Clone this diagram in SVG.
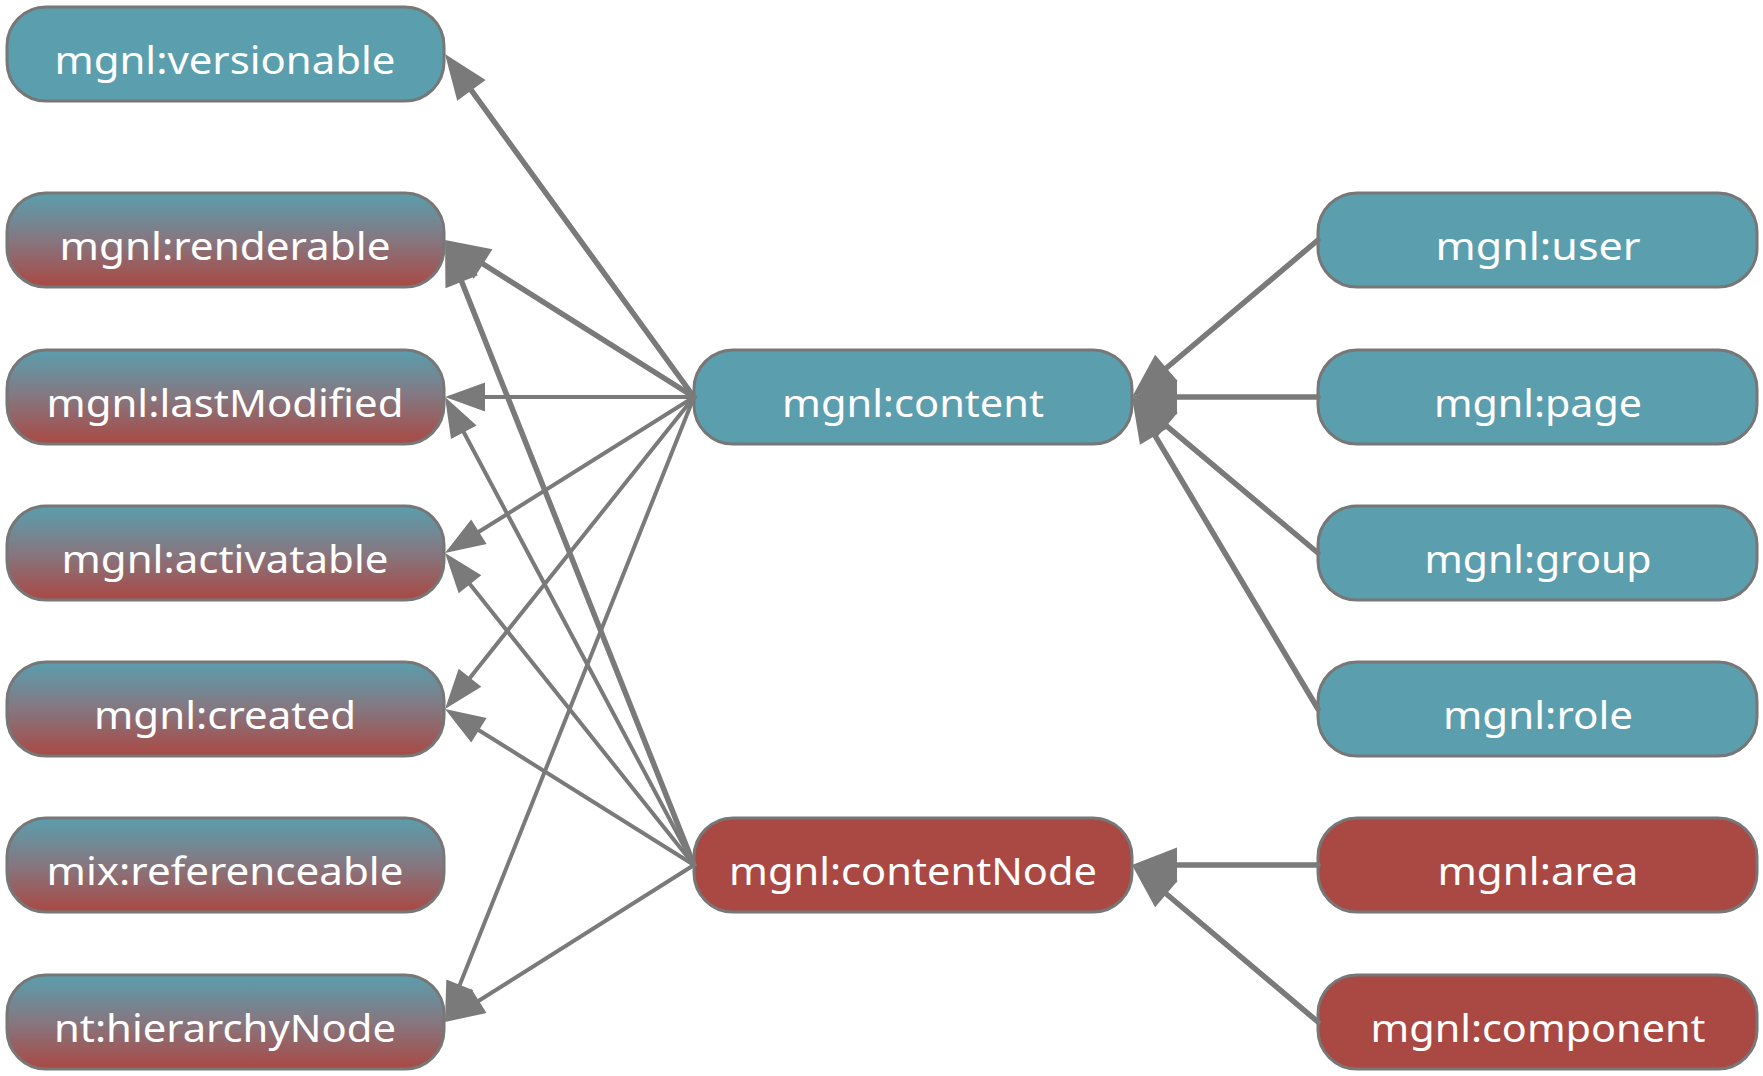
<svg xmlns="http://www.w3.org/2000/svg" width="1763" height="1076" viewBox="0 0 1763 1076">
<defs>
<linearGradient id="mix" x1="0" y1="0" x2="0" y2="1">
<stop offset="0" stop-color="#5a9eae"/>
<stop offset="0.5" stop-color="#857780"/>
<stop offset="1" stop-color="#aa4843"/>
</linearGradient>
<marker id="ahThick" markerUnits="userSpaceOnUse" viewBox="0 -19 46 38" refX="0" refY="0" markerWidth="46" markerHeight="38" orient="auto" overflow="visible">
<path d="M0,-17.5 L45,0 L0,17.5 z" fill="#7a7a7a"/>
</marker>
<marker id="ahThin" markerUnits="userSpaceOnUse" viewBox="0 -15 41 30" refX="0" refY="0" markerWidth="41" markerHeight="30" orient="auto" overflow="visible">
<path d="M0,-14.5 L40,0 L0,14.5 z" fill="#7a7a7a"/>
</marker>
</defs>
<style>
.node rect{stroke:#777;stroke-width:3}
.teal rect{fill:#5b9eae}
.red rect{fill:#aa4843}
.grad rect{fill:url(#mix)}
.node text{font-family:"Noto Sans","Open Sans","DejaVu Sans",sans-serif;font-size:39px;fill:#fff;text-anchor:middle}
.edges line{stroke:#7a7a7a;fill:none;stroke-linecap:round}
.thick{stroke-width:5.5;marker-end:url(#ahThick)}
.thin{stroke-width:4;marker-end:url(#ahThin)}
</style>
<g id="n-versionable" class="node teal"><rect x="7" y="7" width="437" height="94" rx="39"/><text x="225" y="74" textLength="341" lengthAdjust="spacingAndGlyphs">mgnl:versionable</text></g>
<g id="n-renderable" class="node grad"><rect x="7" y="193" width="437" height="94" rx="39"/><text x="225" y="260" textLength="331" lengthAdjust="spacingAndGlyphs">mgnl:renderable</text></g>
<g id="n-lastModified" class="node grad"><rect x="7" y="350" width="437" height="94" rx="39"/><text x="225" y="417" textLength="357" lengthAdjust="spacingAndGlyphs">mgnl:lastModified</text></g>
<g id="n-activatable" class="node grad"><rect x="7" y="506" width="437" height="94" rx="39"/><text x="225" y="573" textLength="327" lengthAdjust="spacingAndGlyphs">mgnl:activatable</text></g>
<g id="n-created" class="node grad"><rect x="7" y="662" width="437" height="94" rx="39"/><text x="225" y="729" textLength="262" lengthAdjust="spacingAndGlyphs">mgnl:created</text></g>
<g id="n-referenceable" class="node grad"><rect x="7" y="818" width="437" height="94" rx="39"/><text x="225" y="885" textLength="357" lengthAdjust="spacingAndGlyphs">mix:referenceable</text></g>
<g id="n-hierarchyNode" class="node grad"><rect x="7" y="975" width="437" height="94" rx="39"/><text x="225" y="1042" textLength="342" lengthAdjust="spacingAndGlyphs">nt:hierarchyNode</text></g>
<g id="n-content" class="node teal"><rect x="694" y="350" width="438" height="94" rx="39"/><text x="913" y="417" textLength="262" lengthAdjust="spacingAndGlyphs">mgnl:content</text></g>
<g id="n-contentNode" class="node red"><rect x="694" y="818" width="438" height="94" rx="39"/><text x="913" y="885" textLength="368" lengthAdjust="spacingAndGlyphs">mgnl:contentNode</text></g>
<g id="n-user" class="node teal"><rect x="1318" y="193" width="439" height="94" rx="39"/><text x="1538" y="260" textLength="205" lengthAdjust="spacingAndGlyphs">mgnl:user</text></g>
<g id="n-page" class="node teal"><rect x="1318" y="350" width="439" height="94" rx="39"/><text x="1538" y="417" textLength="208" lengthAdjust="spacingAndGlyphs">mgnl:page</text></g>
<g id="n-group" class="node teal"><rect x="1318" y="506" width="439" height="94" rx="39"/><text x="1538" y="573" textLength="227" lengthAdjust="spacingAndGlyphs">mgnl:group</text></g>
<g id="n-role" class="node teal"><rect x="1318" y="662" width="439" height="94" rx="39"/><text x="1538" y="729" textLength="190" lengthAdjust="spacingAndGlyphs">mgnl:role</text></g>
<g id="n-area" class="node red"><rect x="1318" y="818" width="439" height="94" rx="39"/><text x="1538" y="885" textLength="201" lengthAdjust="spacingAndGlyphs">mgnl:area</text></g>
<g id="n-component" class="node red"><rect x="1318" y="975" width="439" height="94" rx="39"/><text x="1538" y="1042" textLength="335" lengthAdjust="spacingAndGlyphs">mgnl:component</text></g>
<g id="edges" class="edges">
<line class="thick" x1="694" y1="397" x2="471.4" y2="90.4"/>
<line class="thick" x1="694" y1="397" x2="483.1" y2="264"/>
<line class="thin" x1="694" y1="397" x2="485" y2="397"/>
<line class="thin" x1="694" y1="397" x2="478.9" y2="531.8"/>
<line class="thin" x1="694" y1="397" x2="470" y2="677.7"/>
<line class="thin" x1="694" y1="397" x2="459.8" y2="984.8"/>
<line class="thick" x1="694" y1="865" x2="461.7" y2="281.8"/>
<line class="thin" x1="694" y1="865" x2="463.8" y2="432.3"/>
<line class="thin" x1="694" y1="865" x2="470" y2="584.3"/>
<line class="thin" x1="694" y1="865" x2="478.9" y2="730.2"/>
<line class="thin" x1="694" y1="865" x2="478.8" y2="1000.7"/>
<line class="thick" x1="1318" y1="240" x2="1166.4" y2="368"/>
<line class="thick" x1="1318" y1="397" x2="1177" y2="397"/>
<line class="thick" x1="1318" y1="553" x2="1166.5" y2="425.9"/>
<line class="thick" x1="1318" y1="709" x2="1155" y2="435.7"/>
<line class="thick" x1="1318" y1="865" x2="1177" y2="865"/>
<line class="thick" x1="1318" y1="1022" x2="1166.4" y2="894"/>
</g>
</svg>
